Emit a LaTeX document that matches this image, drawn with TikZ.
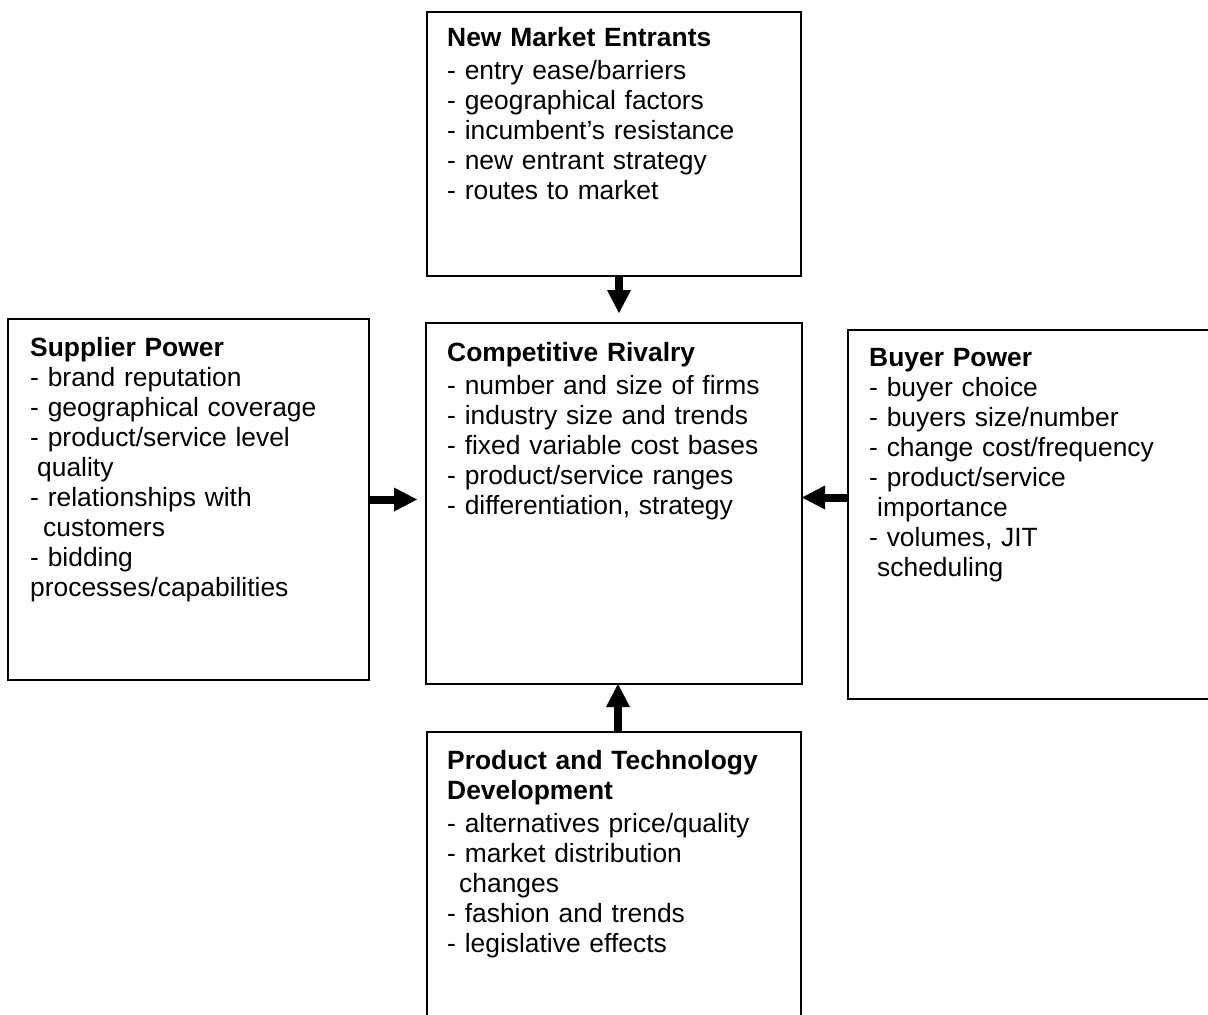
\documentclass[tikz,border=0pt]{standalone}
\usepackage{fontspec}
\setmainfont{Liberation Sans}
\usetikzlibrary{arrows.meta, positioning}

\begin{document}
\begin{tikzpicture}[x=1pt, y=-1pt,
		force/.style={draw, line width=1.8pt, inner sep=0pt, outer sep=0pt,
		              anchor=north west, minimum width=#1},
		txt/.style={anchor=north west, inner sep=0pt, align=left, text width=340pt,
		            font=\fontsize{26.4}{30}\selectfont},
		push/.style={line width=8pt,
		             -{Triangle[width=24pt, length=23pt, line width=0pt]}}]
		\useasboundingbox (0,0) rectangle (1208,1015);
		\clip (0,0) rectangle (1208,1015);
		% the five boxes
		\node[force=374pt, minimum height=264pt] (ent) at (427,12) {};
		\node[force=376pt, minimum height=361pt] (riv) at (426,323) {};
		\node[force=361pt, minimum height=361pt] (sup) at (8,319) {};
		\node[force=372pt, minimum height=369pt] (buy) at (848,330) {};
		\node[force=374pt, minimum height=300pt] (dev) at (427,732) {};
		% their texts
		\node[txt, below right=15pt and 20pt of ent.north west] (entT)
		  {\textbf{New Market Entrants}\\[3pt]
		   - entry ease/barriers\\
		   - geographical factors\\
		   - incumbent’s resistance\\
		   - new entrant strategy\\
		   - routes to market};
		\node[txt, below right=19pt and 21pt of riv.north west] (rivT)
		  {\textbf{Competitive Rivalry}\\[3pt]
		   - number and size of firms\\
		   - industry size and trends\\
		   - fixed variable cost bases\\
		   - product/service ranges\\
		   - differentiation, strategy};
		\node[txt, below right=18pt and 22pt of sup.north west] (supT)
		  {\textbf{Supplier Power}\\
		   - brand reputation\\
		   - geographical coverage\\
		   - product/service level\\
		   \hspace*{7pt}quality\\
		   - relationships with\\
		   \hspace*{13pt}customers\\
		   - bidding\\
		   processes/capabilities};
		\node[txt, below right=18pt and 21pt of buy.north west] (buyT)
		  {\textbf{Buyer Power}\\
		   - buyer choice\\
		   - buyers size/number\\
		   - change cost/frequency\\
		   - product/service\\
		   \hspace*{8pt}importance\\
		   - volumes, JIT\\
		   \hspace*{8pt}scheduling};
		\node[txt, below right=18pt and 20pt of dev.north west] (devT)
		  {\textbf{Product and Technology}\\
		   \textbf{Development}\\[3pt]
		   - alternatives price/quality\\
		   - market distribution\\
		   \hspace*{12pt}changes\\
		   - fashion and trends\\
		   - legislative effects};
		% forces acting on the rivalry
		\draw[push, shorten >=10pt] ([xshift=5pt]ent.south) -- ([xshift=5pt]riv.north);
		\draw[push, shorten >=9pt] (sup.east) -- (sup.east -| riv.west);
		\draw[push] ([yshift=17pt]buy.west) -- ([yshift=17pt]buy.west -| riv.east);
		\draw[push] ([xshift=4pt]dev.north) -- ([xshift=4pt]riv.south);
	\end{tikzpicture}
\end{document}
